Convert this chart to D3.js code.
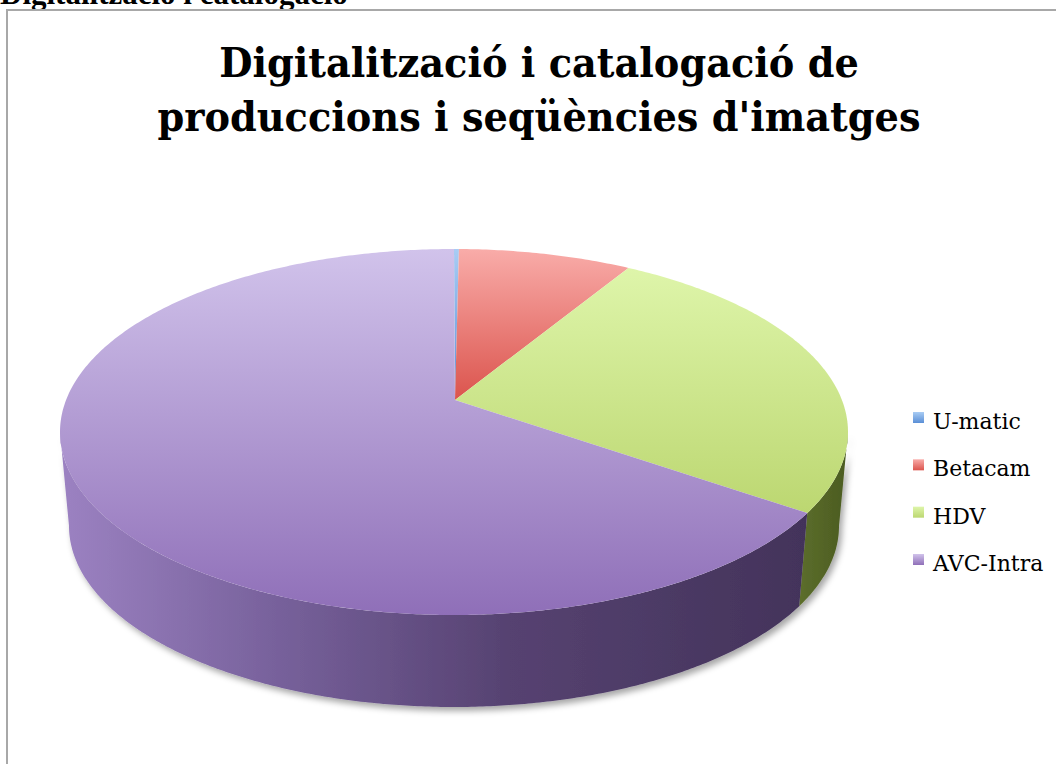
<!DOCTYPE html>
<html lang="ca">
<head>
<meta charset="UTF-8">
<script src="https://d3js.org/d3.v7.min.js"></script>
<title>Digitalització i catalogació</title>
<style>
  body { margin: 0; background: #fff; }
  svg { display: block; }
  .legend text { font-family: "DejaVu Serif", serif; font-size: 22px; fill: #000; }
  .title { font-family: "DejaVu Serif", serif; font-weight: bold; font-size: 41px; fill: #000; }
  .head { font-family: "Liberation Serif", "Times New Roman", serif; font-weight: bold; font-size: 31px; }
</style>
</head>
<body>
<svg id="chart" width="1056" height="764"></svg>
<script>
// values (percent)
const categories = ["U-matic", "Betacam", "HDV", "AVC-Intra"];
const values = [0.2, 7.1, 25.0, 67.7];
const titleLines = ["Digitalització i catalogació de", "produccions i seqüències d'imatges"];

// colours per slice: top face gradient, side wall gradient
const topColors = [["#a9ccf4", "#5a8fd6"], ["#f9aca9", "#db544d"], ["#def5aa", "#bcd771"], ["#d1c3eb", "#8f6fb8"]];
const wallColors = [["#5a88c4", "#3d5f8e"], ["#b24c47", "#8a3531"], ["#5c6e2c", "#4b5b20"], ["#9c82c2", "#43335a"]];

const svg = d3.select("#chart");
const defs = svg.append("defs");

// page header (cut off at top, as in the source page) and frame
svg.append("text").attr("class", "head").attr("x", 0).attr("y", 4).text("Digitalització i catalogació");
svg.append("path").attr("d", "M7,764 V10 H1056").attr("fill", "none").attr("stroke", "#a8a8a8").attr("stroke-width", 2);

// title, squeezed horizontally to the width of the original font
const titleG = svg.append("g");
titleLines.forEach((t, i) => {
  titleG.append("text").attr("class", "title")
    .attr("x", 0).attr("y", 0)
    .attr("text-anchor", "middle").text(t);
});
const w0 = titleG.select("text").node().getComputedTextLength();
const sx = 640 / w0;
titleG.selectAll("text").attr("transform", (d, i) => `translate(539,${77 + i * 54}) scale(${sx},1)`);

// pie geometry
const cx = 454, cy = 432, rx = 394, ry = 183;
const apex = [455, 400];
const depth = 94, rxB = 385, ryB = 181;

const arcs = d3.pie().sort(null).startAngle(0).endAngle(2 * Math.PI)(values);

const ept = (a, rX, rY, dy) => [cx + rX * Math.sin(a), cy + dy - rY * Math.cos(a)];
const sample = (a0, a1, rX, rY, dy) => {
  const n = Math.max(2, Math.ceil(Math.abs(a1 - a0) / 0.01));
  return d3.range(n + 1).map(i => ept(a0 + (a1 - a0) * i / n, rX, rY, dy));
};
const line = d3.line();

// gradients
arcs.forEach((d, i) => {
  const g = defs.append("linearGradient").attr("id", "top" + i)
    .attr("x1", 0).attr("y1", 0).attr("x2", 0).attr("y2", 1);
  g.append("stop").attr("offset", 0).attr("stop-color", topColors[i][0]);
  g.append("stop").attr("offset", 1).attr("stop-color", topColors[i][1]);
  const w = defs.append("linearGradient").attr("id", "wall" + i)
    .attr("x1", 0).attr("y1", 0).attr("x2", 1).attr("y2", 0);
  w.append("stop").attr("offset", 0).attr("stop-color", wallColors[i][0]);
  if (i === 3) {
    w.append("stop").attr("offset", 0.3).attr("stop-color", "#76609a");
    w.append("stop").attr("offset", 0.6).attr("stop-color", "#564271");
  }
  w.append("stop").attr("offset", 1).attr("stop-color", wallColors[i][1]);
});

const shadow = defs.append("filter").attr("id", "shadow")
  .attr("x", "-10%").attr("y", "-10%").attr("width", "120%").attr("height", "130%");
shadow.append("feDropShadow").attr("dx", 3).attr("dy", 4).attr("stdDeviation", 3)
  .attr("flood-color", "#000").attr("flood-opacity", 0.35);

// side walls (front half only: angle pi/2 .. 3pi/2)
const walls = svg.append("g").attr("filter", "url(#shadow)");
arcs.forEach((d, i) => {
  const s = Math.max(d.startAngle, Math.PI / 2), e = Math.min(d.endAngle, 3 * Math.PI / 2);
  if (e <= s) return;
  const pts = sample(s, e, rx, ry, 0).concat(sample(e, s, rxB, ryB, depth));
  walls.append("path").attr("d", line(pts) + "Z").attr("fill", `url(#wall${i})`);
});

// top face
const face = svg.append("g");
arcs.forEach((d, i) => {
  const pts = [apex].concat(sample(d.startAngle, d.endAngle, rx, ry, 0));
  face.append("path").attr("d", line(pts) + "Z").attr("fill", `url(#top${i})`);
});

// legend
const legend = svg.append("g").attr("class", "legend");
const ly = d3.scalePoint().domain(categories).range([418, 560]);
categories.forEach((c, i) => {
  legend.append("rect").attr("x", 913).attr("y", ly(c) - 6).attr("width", 11).attr("height", 11)
    .attr("fill", `url(#top${i})`);
  legend.append("text").attr("x", 933).attr("y", ly(c) + 11).text(c);
});
</script>
</body>
</html>
